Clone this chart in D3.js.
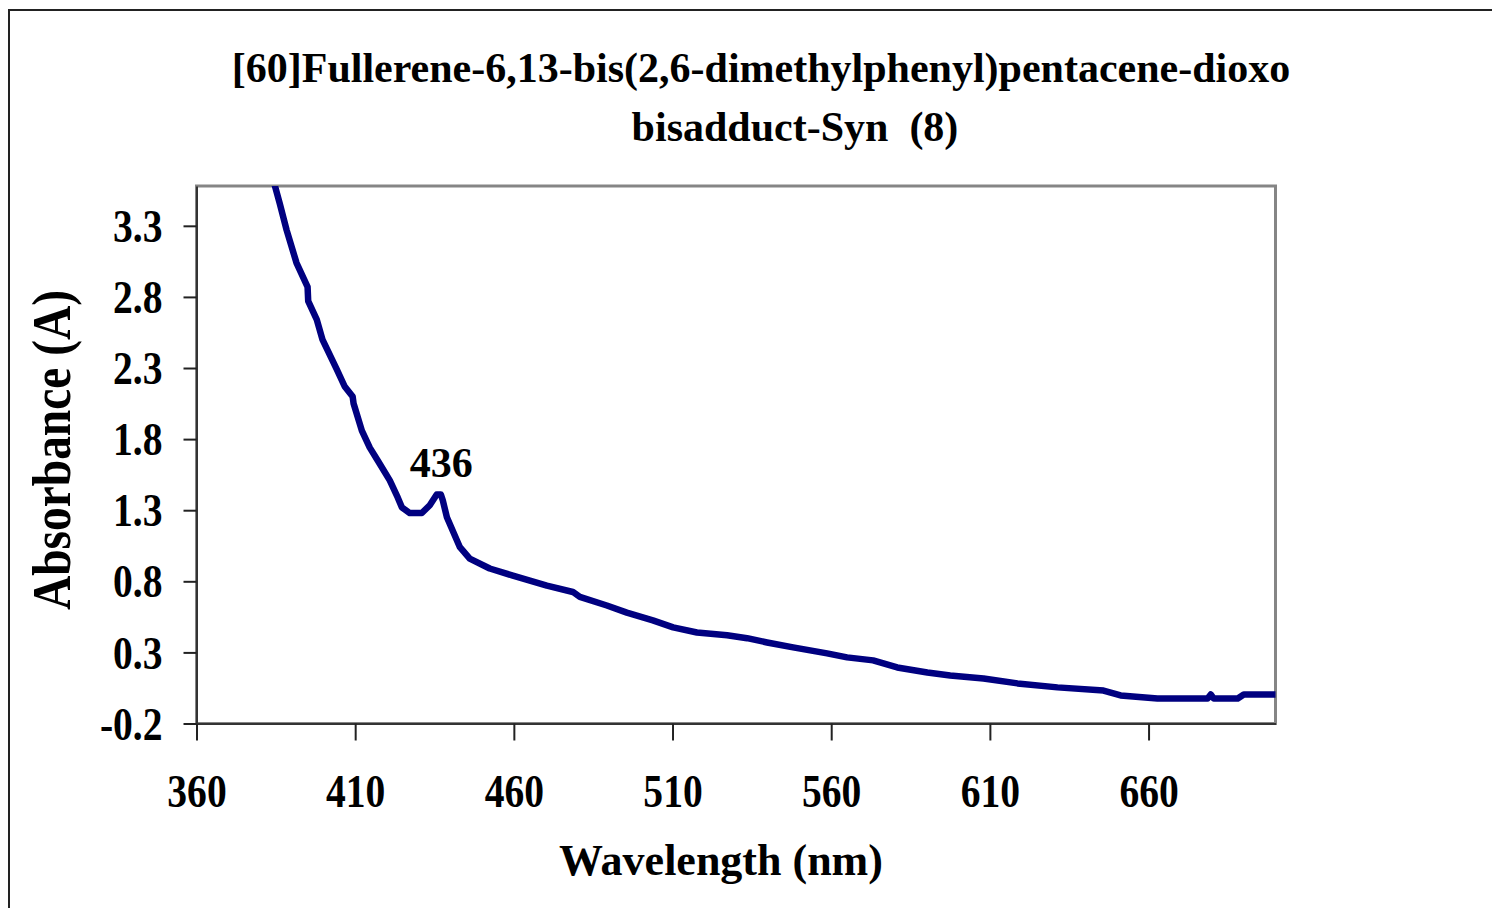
<!DOCTYPE html>
<html>
<head>
<meta charset="utf-8">
<script src="https://cdn.jsdelivr.net/npm/d3@7"></script>
<style>
  html, body { margin: 0; padding: 0; background: #fff; }
  svg { display: block; }
  text { font-family: "Liberation Serif", "Times New Roman", serif; font-weight: bold; fill: #000; }
</style>
</head>
<body>
<svg id="chart" width="1492" height="908"></svg>
<script>
// ---- data ----
const wavelengths = [380, 382, 384.6, 386.2, 388.4, 391.5, 395.0, 395.2, 397.9, 399.7, 404.2, 406.7, 409.2, 409.5,
  412.1, 414.6, 417.1, 420.9, 423.4, 424.7, 427.2, 431.0, 433.5, 435.7, 437.0, 437.6, 438.9,
  443.0, 446.1, 452.4, 459.7, 470.4, 478.6, 480.8, 489.3, 495.6, 503.8, 510.2, 517.7, 527.2,
  533.5, 539.8, 548.0, 558.7, 565.0, 573.2, 580.8, 590.3, 597.5, 608.0, 618.7, 631.3, 645.8,
  651.2, 662.8, 678.6, 679.6, 680.5, 688.1, 690.0, 700.0];
const absorbance = [4.05, 3.82, 3.59, 3.46, 3.27, 3.04, 2.87, 2.77, 2.64, 2.50, 2.29, 2.17, 2.10, 2.05,
  1.86, 1.74, 1.65, 1.51, 1.39, 1.32, 1.28, 1.28, 1.335, 1.41, 1.41, 1.37, 1.25,
  1.04, 0.96, 0.89, 0.84, 0.77, 0.725, 0.69, 0.63, 0.58, 0.525, 0.476, 0.44, 0.42,
  0.40, 0.37, 0.335, 0.293, 0.265, 0.244, 0.194, 0.159, 0.138, 0.117, 0.082, 0.054, 0.032,
  -0.003, -0.024, -0.024, 0.004, -0.024, -0.024, 0.004, 0.004];
const xTicks = [360, 410, 460, 510, 560, 610, 660];
const yTicks = [-0.2, 0.3, 0.8, 1.3, 1.8, 2.3, 2.8, 3.3];
const titleLines = ["[60]Fullerene-6,13-bis(2,6-dimethylphenyl)pentacene-dioxo", "bisadduct-Syn  (8)"];
const xLabel = "Wavelength (nm)";
const yLabel = "Absorbance (A)";
const peakLabel = "436";

(function () {
// ---- layout ----
const svg = d3.select("#chart");
const pLeft = 196.5, pRight = 1275.5, pTop = 186, pBottom = 723.5;

// outer chart frame
svg.append("rect").attr("x", 9).attr("y", 10).attr("width", 1600).attr("height", 1000)
  .attr("fill", "#fff").attr("stroke", "#222").attr("stroke-width", 2);

const x = d3.scaleLinear().domain([360, 700]).range([pLeft, pRight]);
const y = d3.scaleLinear().domain([-0.2, 3.58]).range([pBottom, pTop]);

// plot area border
svg.append("rect").attr("x", pLeft).attr("y", pTop).attr("width", pRight - pLeft).attr("height", pBottom - pTop)
  .attr("fill", "#fff").attr("stroke", "#858585").attr("stroke-width", 3);

// clip
svg.append("clipPath").attr("id", "clip").append("rect")
  .attr("x", pLeft).attr("y", pTop).attr("width", pRight - pLeft).attr("height", pBottom - pTop);

// x axis
const gx = svg.append("g").attr("transform", `translate(0,${pBottom})`)
  .call(d3.axisBottom(x).tickValues(xTicks).tickSize(17).tickPadding(34).tickSizeOuter(0).tickFormat(d3.format("d")));
gx.select(".domain").attr("stroke", "#333").attr("stroke-width", 2);
gx.selectAll(".tick line").attr("stroke", "#222").attr("stroke-width", 2);
gx.selectAll(".tick text").attr("font-size", 46).attr("dy", "0.71em")
  .attr("transform", "scale(0.86,1)")
  .style("font-family", '"Liberation Serif", serif').style("font-weight", "bold").attr("fill", "#000");

// y axis (hyphen-minus like the original)
const yFmt = d => d3.format(".1f")(d).replace("\u2212", "-");
const gy = svg.append("g").attr("transform", `translate(${pLeft},0)`)
  .call(d3.axisLeft(y).tickValues(yTicks).tickSize(13).tickPadding(34).tickSizeOuter(0).tickFormat(yFmt));
gy.select(".domain").attr("stroke", "#333").attr("stroke-width", 2);
gy.selectAll(".tick line").attr("stroke", "#222").attr("stroke-width", 2);
gy.selectAll(".tick text").attr("font-size", 46).attr("dy", "0.34em")
  .attr("x", -34 / 0.86).attr("transform", "scale(0.86,1)")
  .style("font-family", '"Liberation Serif", serif').style("font-weight", "bold").attr("fill", "#000");

// line
const line = d3.line().x((d, i) => x(wavelengths[i])).y(d => y(d));
svg.append("path").datum(absorbance)
  .attr("clip-path", "url(#clip)")
  .attr("fill", "none").attr("stroke", "#000080").attr("stroke-width", 6.5)
  .attr("stroke-linejoin", "round").attr("stroke-linecap", "round")
  .attr("d", line);

// peak label
svg.append("text").attr("x", x(436) - 28).attr("y", 477).attr("font-size", 42).text(peakLabel);

// title
svg.append("text").attr("x", 761).attr("y", 82).attr("text-anchor", "middle").attr("font-size", 42).text(titleLines[0]);
svg.append("text").attr("x", 795).attr("y", 141).attr("text-anchor", "middle").attr("font-size", 42)
  .style("white-space", "pre").text(titleLines[1]);

// axis titles
svg.append("text").attr("x", 721).attr("y", 875).attr("text-anchor", "middle").attr("font-size", 44).text(xLabel);
svg.append("text").attr("transform", "translate(70,450) rotate(-90)").attr("text-anchor", "middle")
  .attr("font-size", 55).attr("textLength", 320).attr("lengthAdjust", "spacingAndGlyphs").text(yLabel);
})();
</script>
</body>
</html>
